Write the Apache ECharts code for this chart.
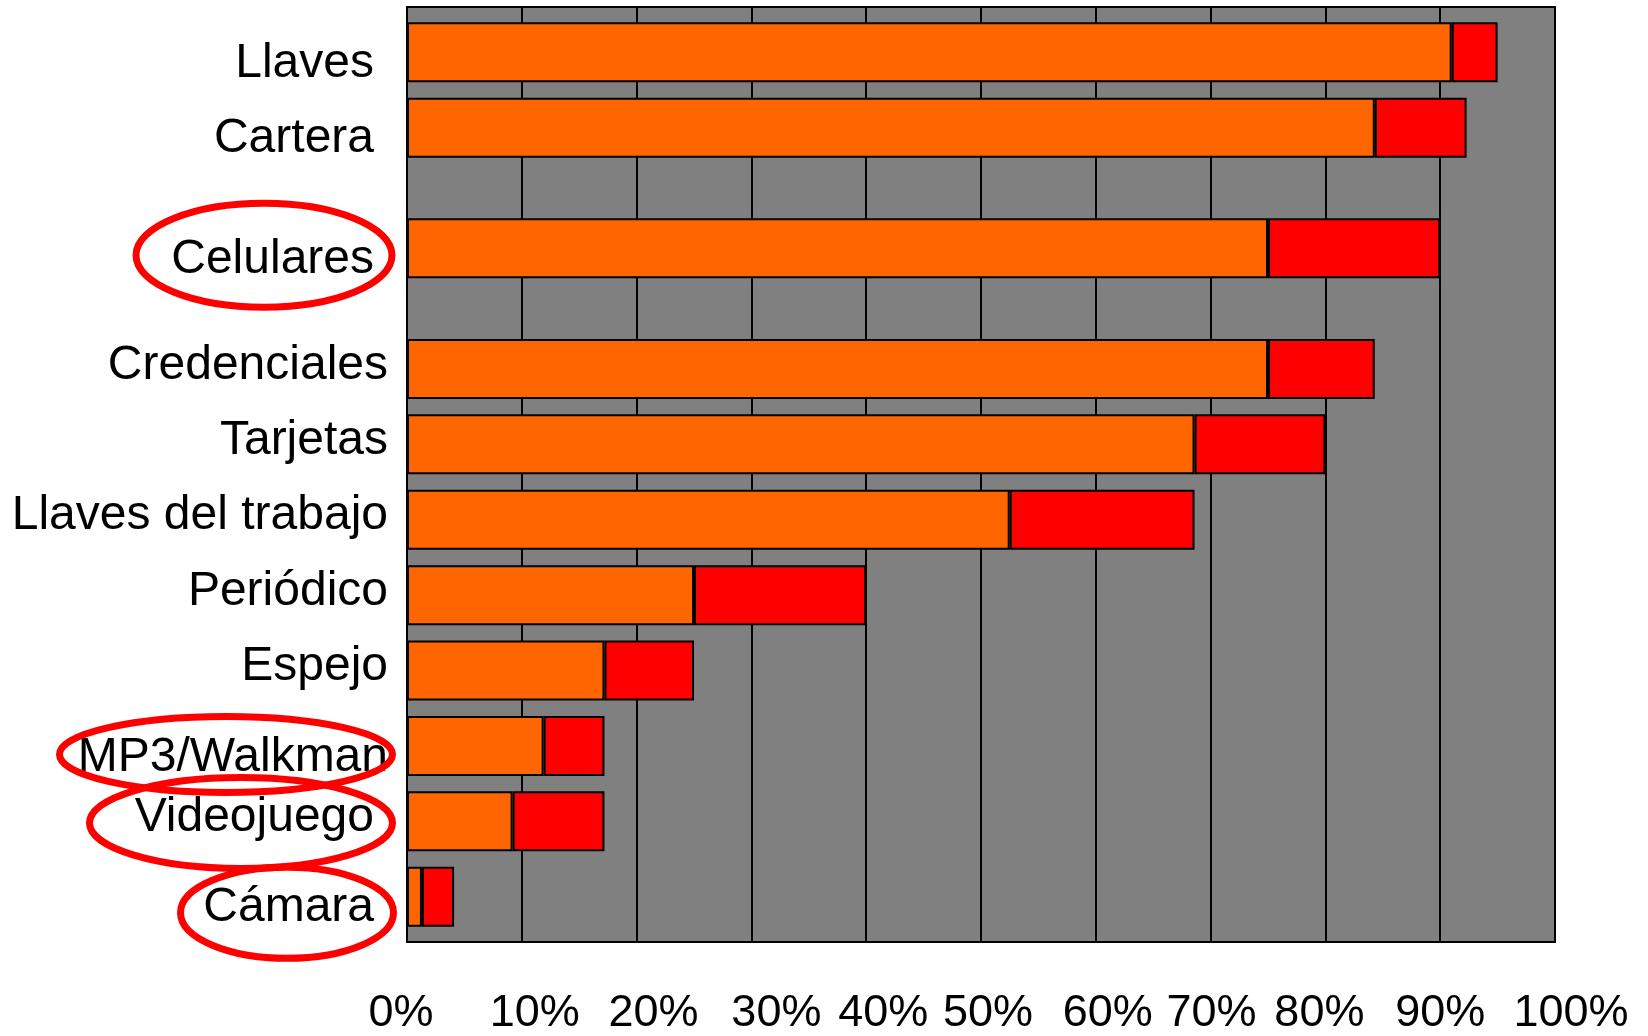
<!DOCTYPE html>
<html>
<head>
<meta charset="utf-8">
<script src="https://cdn.jsdelivr.net/npm/echarts@6/dist/echarts.min.js"></script>
<style>
html,body{margin:0;padding:0;background:#ffffff;}
#chart{width:1648px;height:1036px;}
</style>
</head>
<body>
<div id="chart"></div>
<script>
// ---- data ----
const categories = ['Llaves', 'Cartera', 'Celulares', 'Credenciales', 'Tarjetas', 'Llaves del trabajo', 'Periódico', 'Espejo', 'MP3/Walkman', 'Videojuego', 'Cámara'];
const orangeValues = [91, 84.3, 75, 75, 68.6, 52.5, 25, 17.2, 11.9, 9.2, 1.3];
const redValues = [4, 8, 15, 9.3, 11.4, 16.1, 15, 7.8, 5.3, 8.0, 2.8];
const xTickValues = [0, 10, 20, 30, 40, 50, 60, 70, 80, 90, 100];
const circledLabels = ['Celulares', 'MP3/Walkman', 'Videojuego', 'Cámara'];
const indentedLabels = ['Llaves', 'Cartera', 'Celulares', 'Videojuego', 'Cámara'];
const lowerLabels = ['Llaves', 'Cartera', 'Celulares', 'MP3/Walkman', 'Cámara'];

// ---- layout ----
const edgeSlots = 3;
const rowSteps = [5, 8, 8, 5, 5, 5, 5, 5, 5, 5];
const xLabelShift = [-6, 13, 17, 25, 17, 7, 12, 1, -6, 0, 16];

const slotIndex = [edgeSlots];
rowSteps.forEach(s => slotIndex.push(slotIndex[slotIndex.length - 1] + s));
const slotCount = slotIndex[slotIndex.length - 1] + edgeSlots + 1;

const yData = [];
const orangeData = [];
const redData = [];
for (let i = 0; i < slotCount; i++) {
  yData.push('gap' + i);
  orangeData.push(null);
  redData.push(null);
}
categories.forEach((c, k) => {
  yData[slotIndex[k]] = c;
  orangeData[slotIndex[k]] = orangeValues[k];
  redData[slotIndex[k]] = redValues[k];
});

const FONT = "'Liberation Sans', Arial, Helvetica, sans-serif";
const Y_FS = 48, X_FS = 45;

// rich styles for y labels
const yRich = {};
[['li', true, true], ['ln', true, false], ['hi', false, true], ['hn', false, false]].forEach(([key, low, ind]) => {
  yRich[key] = {
    fontFamily: FONT, fontSize: Y_FS, color: '#000000',
    padding: [low ? 23 : 0, ind ? 14 : 0, low ? 0 : 7, 0]
  };
});
// rich styles for x labels
const xRich = {};
xLabelShift.forEach((s, i) => {
  xRich['x' + i] = {
    fontFamily: FONT, fontSize: X_FS, color: '#000000',
    padding: [0, s < 0 ? -2 * s : 0, 0, s > 0 ? 2 * s : 0]
  };
});

const chart = echarts.init(document.getElementById('chart'), null, {renderer: 'canvas'});
chart.setOption({
  animation: false,
  backgroundColor: '#ffffff',
  grid: {
    left: 407, right: 93, top: 7, bottom: 93,
    show: true, backgroundColor: '#808080', borderColor: '#000000', borderWidth: 2,
    containLabel: false
  },
  xAxis: {
    type: 'value',
    min: xTickValues[0],
    max: xTickValues[xTickValues.length - 1],
    interval: 10,
    axisLine: {show: false},
    axisTick: {show: false},
    splitLine: {show: true, lineStyle: {color: '#000000', width: 2}},
    axisLabel: {
      color: '#000000',
      fontFamily: FONT,
      fontSize: X_FS,
      margin: 49,
      formatter: function (v) {
        const i = xTickValues.indexOf(v);
        return '{x' + i + '|' + v + '%}';
      },
      rich: xRich
    }
  },
  yAxis: {
    type: 'category',
    data: yData,
    inverse: true,
    boundaryGap: false,
    axisLine: {show: false},
    axisTick: {show: false},
    splitLine: {show: false},
    axisLabel: {
      interval: 0,
      margin: 19,
      color: '#000000',
      fontFamily: FONT,
      fontSize: Y_FS,
      formatter: function (v) {
        if (categories.indexOf(v) < 0) return '';
        const key = (lowerLabels.indexOf(v) >= 0 ? 'l' : 'h') + (indentedLabels.indexOf(v) >= 0 ? 'i' : 'n');
        return '{' + key + '|' + v + '}';
      },
      rich: yRich
    }
  },
  series: [
    {
      name: 'base',
      type: 'bar',
      stack: 'total',
      barWidth: 60,
      silent: true,
      data: orangeData,
      itemStyle: {color: '#FF6600', borderColor: '#000000', borderWidth: 2}
    },
    {
      name: 'extra',
      type: 'bar',
      stack: 'total',
      barWidth: 60,
      silent: true,
      data: redData,
      itemStyle: {color: '#FF0000', borderColor: '#000000', borderWidth: 2}
    }
  ]
});

// ---- red annotation ellipses around circled labels ----
const ellipseShapes = {
  'Celulares':   {cx: 264, dy: 7,   rx: 128,   ry: 52},
  'MP3/Walkman': {cx: 226, dy: 8.5, rx: 166.5, ry: 38},
  'Videojuego':  {cx: 241, dy: 1.6, rx: 151.5, ry: 45.5},
  'Cámara':      {cx: 287, dy: 16,  rx: 106.5, ry: 45.5}
};
const graphics = circledLabels.map(name => {
  const k = categories.indexOf(name);
  const y = chart.convertToPixel({yAxisIndex: 0}, slotIndex[k]);
  const e = ellipseShapes[name];
  return {
    type: 'ellipse',
    z: 100,
    silent: true,
    shape: {cx: e.cx, cy: y + e.dy, rx: e.rx, ry: e.ry},
    style: {fill: 'none', stroke: '#FF0000', lineWidth: 7}
  };
});
chart.setOption({graphic: graphics});
</script>
</body>
</html>
